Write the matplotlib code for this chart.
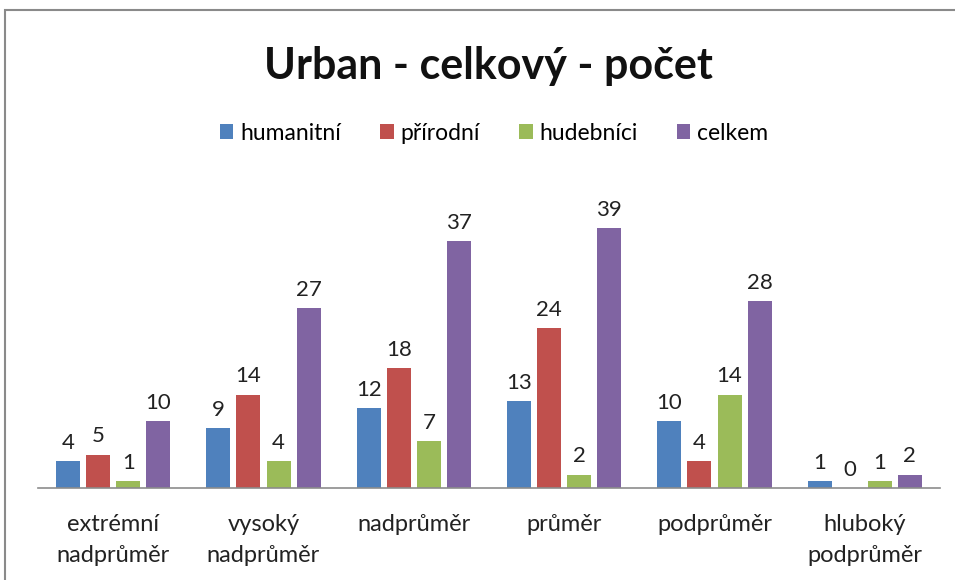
import numpy as np
import matplotlib.pyplot as plt
from matplotlib.patches import Rectangle

categories = ["extrémní\nnadprůměr", "vysoký\nnadprůměr", "nadprůměr",
              "průměr", "podprůměr", "hluboký\npodprůměr"]
series_names = ["humanitní", "přírodní", "hudebníci", "celkem"]
humanitni = [4, 9, 12, 13, 10, 1]
prirodni = [5, 14, 18, 24, 4, 0]
hudebnici = [1, 4, 7, 2, 14, 1]
celkem = [10, 27, 37, 39, 28, 2]

colors = ["#4F81BD", "#C0504D", "#9BBB59", "#8064A2"]
FONT = ["Lato", "DejaVu Sans"]
plt.rcParams["font.family"] = FONT

fig = plt.figure(figsize=(9.55, 5.8), dpi=100)
ax = fig.add_axes([38 / 955, 92 / 580, 902 / 955, 300 / 580])

x = np.arange(len(categories))
pitch = 0.2
width = 0.16
for i, (name, vals) in enumerate(zip(series_names, [humanitni, prirodni, hudebnici, celkem])):
    pos = x + (i - 1.5) * pitch
    bars = ax.bar(pos, vals, width=width, color=colors[i], label=name, zorder=2)
    for b, v in zip(bars, vals):
        ax.annotate(str(v), (b.get_x() + b.get_width() / 2, v),
                    xytext=(0, 6), textcoords="offset points",
                    ha="center", va="bottom", fontsize=16, color="#222222")

ax.set_xlim(-0.5, len(categories) - 0.5)
ax.set_ylim(0, 45)
ax.set_yticks([])
ax.set_xticks(x)
ax.set_xticklabels(categories, fontsize=17, color="#222222", linespacing=1.55)
ax.tick_params(axis="x", length=0, pad=19)
for s in ["top", "right", "left"]:
    ax.spines[s].set_visible(False)
ax.spines["bottom"].set_color("#8C8C8C")
ax.spines["bottom"].set_linewidth(1.2)

fig.text(488 / 955, 1 - 66 / 580, "Urban - celkový - počet", ha="center", va="center",
         fontsize=31, fontweight="bold", color="#111111")

fig.legend(loc="center", bbox_to_anchor=(494 / 955, 1 - 133 / 580), ncol=4,
           frameon=False, fontsize=16.5, handlelength=0.6, handleheight=0.6,
           handletextpad=0.3, columnspacing=1.7)

fig.patches.append(Rectangle((5 / 955, -0.05), 1.1, 1 - 10 / 580 + 0.05,
                             transform=fig.transFigure, fill=False,
                             edgecolor="#8A8A8A", linewidth=1.5))

fig.savefig("out.png", dpi=100)
